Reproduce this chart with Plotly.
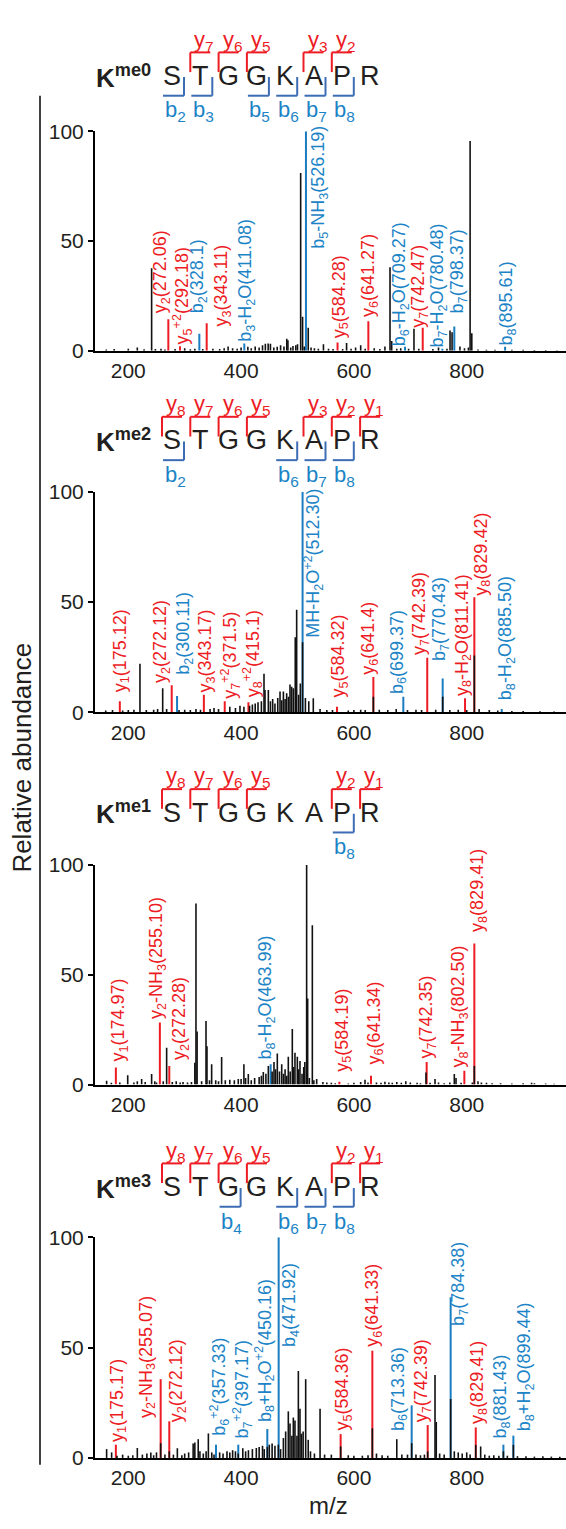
import plotly.graph_objects as go

W, H = 566, 1529
FONT = "Liberation Sans, Arial, Helvetica, sans-serif"
TXT = "#231f20"
RED = "#ed1c24"
BLUE = "#1a7cc1"
BRK_BLUE = "#3c6db4"
LBL_BLUE = "#1c84c6"

def px(x):
    return x / W

def py(y):
    return 1 - y / H

# ---------------- data ----------------
RESIDUES = ["S", "T", "G", "G", "K", "A", "P", "R"]
MODS = ["me0", "me2", "me1", "me3"]
Y_HEADER = [[7, 6, 5, 3, 2], [8, 7, 6, 5, 3, 2, 1], [8, 7, 6, 5, 2, 1], [8, 7, 6, 5, 2, 1]]
B_HEADER = [[2, 3, 5, 6, 7, 8], [2, 6, 7, 8], [8], [4, 6, 7, 8]]
X_TICKS = [200, 400, 600, 800]
Y_TICKS = [0, 50, 100]

# panel 1 (Kme0)
P1_mz = [161, 175, 200, 216, 228, 241.4, 248, 258, 265, 283, 300, 310, 318, 332, 350, 362, 370, 377, 385, 393,
         400, 412, 418, 425, 432, 438, 443, 448, 452, 458, 464, 470, 476, 481, 483, 488, 492, 497, 500, 505.6,
         509, 512, 519, 524, 530, 537, 546, 555, 563, 580, 587, 595, 603, 612, 620, 636, 646, 655, 664, 667,
         676, 683, 697, 706.5, 715, 740, 750, 765, 770.4, 774, 788, 796, 803, 806, 809, 820, 835, 850, 880,
         900, 920, 940, 960]
P1_int = [0.6, 0.8, 1.0, 1.5, 0.7, 37.6, 0.8, 1.0, 0.6, 0.8, 1.2, 0.7, 1.0, 0.8, 1.0, 0.8, 1.2, 2.0, 1.2, 0.9,
          1.5, 1.8, 1.2, 2.0, 1.5, 2.5, 3.2, 3.3, 3.2, 1.5, 1.8, 2.5, 2.0, 5.5, 4.8, 1.5, 2.2, 2.5, 3.0, 81.0,
          15.5, 2.0, 10.5, 1.5, 1.2, 1.0, 3.0, 1.0, 0.8, 0.8, 3.6, 1.0, 1.5, 2.5, 1.0, 1.2, 0.8, 2.0, 38.0, 4.5,
          1.0, 1.2, 1.0, 10.0, 1.0, 0.8, 1.5, 1.0, 9.3, 8.5, 2.0, 1.2, 1.5, 95.5, 8.0, 0.6, 0.5, 0.5, 0.5,
          0.5, 0.4, 0.4, 0.3]
P1_ion_mz = [271, 291.7, 326, 339, 405.7, 515, 571, 625.6, 690.6, 722, 756.8, 778, 868]
P1_ion_int = [14.4, 2.1, 7.8, 12.5, 3.3, 100, 3.8, 13.5, 1.8, 10.5, 1.0, 11.1, 1.8]
P1_ion_type = ["y", "y", "b", "y", "b", "b", "y", "y", "b", "y", "b", "b", "b"]
P1_labels = ["y<sub>2</sub>(272.06)", "y<sub>5</sub><sup>+2</sup>(292.18)", "b<sub>2</sub>(328.1)",
             "y<sub>3</sub>(343.11)", "b<sub>3</sub>-H<sub>2</sub>O(411.08)", "b<sub>5</sub>-NH<sub>3</sub>(526.19)",
             "y<sub>5</sub>(584.28)", "y<sub>6</sub>(641.27)", "b<sub>6</sub>-H<sub>2</sub>O(709.27)",
             "y<sub>7</sub>(742.47)", "b<sub>7</sub>-H<sub>2</sub>O(780.48)", "b<sub>7</sub>(798.37)",
             "b<sub>8</sub>(895.61)"]
P1_lab_mz = [259, 296.4, 324, 366.7, 410, 540, 575.3, 628.5, 683, 716, 750, 785, 874]
P1_lab_y = [16.7, 2.5, 16.7, 10.8, 3.8, 45.8, 5.5, 15.2, 1.5, 10.0, 0.8, 16.7, 2.2]

# panel 2 (Kme2)
P2_mz = [160, 172, 190, 200, 210, 220.7, 232, 245, 252, 261, 268, 290, 300, 310, 320, 328, 345, 352, 360, 380,
         390, 398, 405, 415, 420, 425, 430, 436, 440.6, 442.4, 448.3, 452, 456, 460, 465, 469, 472, 475, 478,
         480.8, 484, 486.7, 489.6, 492.6, 496, 498.5, 502, 505, 509, 514, 520, 528, 540, 552, 562, 590, 600,
         612, 620, 634.5, 645, 660, 675, 695, 710, 720, 745, 757.4, 770, 785, 800, 813.5, 822, 840, 855, 880,
         900, 930, 955]
P2_int = [0.8, 1.0, 0.8, 1.0, 1.2, 22.0, 1.0, 1.2, 1.5, 10.9, 1.5, 1.0, 1.2, 1.0, 1.5, 1.2, 1.5, 2.0, 1.5, 2.5,
          2.0, 3.0, 2.5, 3.0, 3.5, 4.0, 4.5, 5.0, 17.5, 10.1, 10.1, 5.0, 6.0, 4.0, 6.5, 9.4, 5.5, 9.4, 6.0,
          8.6, 7.0, 12.6, 11.6, 10.9, 34.0, 46.5, 8.0, 13.1, 31.7, 6.5, 5.0, 6.4, 1.5, 1.0, 1.0, 0.8, 1.0,
          1.2, 1.0, 7.0, 1.2, 1.0, 1.5, 1.0, 1.2, 1.0, 1.2, 7.0, 1.0, 1.2, 1.0, 25.7, 1.5, 1.0, 0.8, 0.6,
          0.6, 0.5, 0.4]
P2_ion_mz = [185, 277, 286.5, 334, 371, 413, 509, 570, 634.5, 687.6, 730, 757.4, 797, 813.5, 862]
P2_ion_int = [5.0, 12.3, 7.4, 7.9, 5.0, 4.5, 100, 2.5, 16.0, 7.1, 24.7, 15.3, 6.4, 52.1, 1.5]
P2_ion_type = ["y", "y", "b", "y", "y", "y", "b", "y", "y", "b", "y", "b", "y", "y", "b"]
P2_labels = ["y<sub>1</sub>(175.12)", "y<sub>2</sub>(272.12)", "b<sub>2</sub>(300.11)", "y<sub>3</sub>(343.17)",
             "y<sub>7</sub><sup>+2</sup>(371.5)", "y<sub>8</sub><sup>+2</sup>(415.1)",
             "MH-H<sub>2</sub>O<sup>+2</sup>(512.30)", "y<sub>5</sub>(584.32)", "y<sub>6</sub>(641.4)",
             "b<sub>6</sub>(699.37)", "y<sub>7</sub>(742.39)", "b<sub>7</sub>(770.43)",
             "y<sub>8</sub>-H<sub>2</sub>O(811.41)", "y<sub>8</sub>(829.42)", "b<sub>8</sub>-H<sub>2</sub>O(885.50)"]
P2_lab_mz = [188, 259, 300.5, 339, 380, 420.5, 528, 575, 628.5, 678.8, 717, 752.6, 794, 828.3, 870.8]
P2_lab_y = [8.6, 12.8, 16.8, 8.6, 5.8, 6.4, 33.2, 6.4, 16.8, 8.0, 25.7, 22.8, 7.1, 52.5, 4.9]

# panel 3 (Kme1)
P3_mz = [161.6, 170, 185, 199, 210, 216, 223.7, 230, 241.4, 247, 250, 262, 268, 278, 285, 292, 297, 305, 312,
         318, 320, 322, 330, 337.8, 339.5, 344, 347.8, 355, 360, 365.5, 372, 380, 388, 395, 400, 405, 408,
         412.8, 418, 424, 432, 436, 439.4, 444, 448.3, 455, 458.3, 461, 464.2, 468, 472, 475, 478, 481, 483.7,
         487, 490.8, 493, 495.5, 499.7, 502, 504.4, 508, 511, 513, 516.2, 518, 521, 526.3, 529, 534, 545, 552,
         560, 567, 590, 600, 612, 619.7, 625, 640, 648, 655, 662, 668, 676, 684, 692, 700, 712, 718, 727.8,
         735, 743.8, 750, 760, 770, 778, 781, 790, 810, 813.5, 820, 826, 835, 845, 860, 880, 900, 915, 920,
         940, 955]
P3_int = [1.8, 0.8, 1.0, 4.3, 1.0, 1.5, 2.5, 1.2, 4.8, 1.5, 1.0, 1.5, 16.8, 1.2, 1.5, 1.0, 1.2, 1.0, 1.2,
          10.0, 82.5, 24.2, 1.5, 29.0, 17.5, 2.0, 9.3, 2.0, 1.5, 12.6, 2.0, 2.2, 2.0, 2.5, 2.5, 9.3, 3.0,
          4.8, 2.0, 3.0, 3.5, 4.0, 5.8, 5.0, 8.5, 6.0, 10.3, 7.0, 14.2, 6.0, 9.3, 5.0, 7.0, 4.0, 12.7,
          6.0, 25.3, 8.0, 14.5, 12.7, 7.0, 10.8, 5.0, 8.0, 10.3, 100, 39.2, 3.0, 72.5, 2.0, 2.5, 1.2, 1.0,
          0.8, 0.6, 0.5, 0.8, 1.2, 2.2, 1.0, 1.0, 0.8, 1.3, 1.0, 0.8, 1.2, 0.8, 1.5, 1.0, 0.8, 0.6, 5.5,
          0.8, 2.5, 1.0, 0.6, 1.0, 4.8, 3.0, 0.8, 1.0, 8.5, 1.5, 1.0, 0.8, 0.6, 0.6, 0.5, 0.6, 0.8, 0.6,
          0.5, 0.4]
P3_ion_mz = [178, 256, 272.7, 452.4, 574.2, 630.3, 729, 795.8, 813.5]
P3_ion_int = [7.8, 28.3, 8.5, 9.3, 1.3, 4.0, 10.3, 6.3, 64.3]
P3_ion_type = ["y", "y", "y", "b", "y", "y", "y", "y", "y"]
P3_labels = ["y<sub>1</sub>(174.97)", "y<sub>2</sub>-NH<sub>3</sub>(255.10)", "y<sub>2</sub>(272.28)",
             "b<sub>8</sub>-H<sub>2</sub>O(463.99)", "y<sub>5</sub>(584.19)", "y<sub>6</sub>(641.34)",
             "y<sub>7</sub>(742.35)", "y<sub>8</sub>-NH<sub>3</sub>(802.50)", "y<sub>8</sub>(829.41)"]
P3_lab_mz = [185.3, 253.2, 292.8, 445.3, 580, 637.4, 730.8, 788, 820.6]
P3_lab_y = [10.3, 29.5, 10.8, 10.8, 5.5, 8.5, 11.5, 7.3, 69.0]

# panel 4 (Kme3)
P4_mz = [161.6, 170.5, 180, 190, 200, 208, 216, 225, 233, 240, 245, 250, 257.4, 265, 272.7, 280, 287, 295, 300,
         307, 315, 318, 324, 327, 333, 338, 342, 348, 352, 362, 368, 375, 380, 385, 390, 395, 403, 408, 413,
         420, 427, 432, 438, 441, 446.5, 450, 455, 460, 466, 470, 475, 479, 483.7, 486.7, 490, 492.6, 495.5,
         499, 501.5, 504.4, 507, 510, 514.5, 519, 523, 530, 540, 548, 560, 576.5, 590, 600, 615, 625, 632.7,
         640, 650, 660, 676, 685, 695, 702.4, 710, 718, 725, 730.8, 743.8, 746, 752, 760, 771.5, 778, 785,
         792, 800, 806, 816, 824.7, 832, 840, 848, 857, 865, 872, 882.7, 890, 905, 920, 935, 950, 965]
P4_int = [4.0, 2.5, 1.0, 1.5, 1.0, 1.2, 4.5, 1.5, 2.0, 2.5, 1.2, 2.5, 6.7, 1.5, 3.0, 1.5, 4.4, 1.2, 2.0,
          2.5, 6.5, 7.0, 8.5, 3.0, 2.0, 3.0, 11.1, 2.5, 1.5, 2.5, 2.0, 3.0, 2.5, 3.5, 3.0, 2.0, 4.4, 3.0, 3.5,
          4.0, 4.5, 5.0, 5.5, 4.0, 5.0, 6.0, 6.5, 5.5, 6.0, 4.0, 9.0, 12.0, 21.1, 15.6, 10.0, 18.3, 17.0,
          10.0, 39.4, 22.3, 11.0, 12.0, 35.7, 8.2, 3.0, 2.0, 22.3, 1.5, 1.5, 5.2, 1.2, 1.0, 1.0, 1.2, 13.4,
          2.0, 1.2, 1.0, 8.5, 1.5, 1.5, 6.7, 1.5, 1.2, 1.5, 3.0, 37.6, 16.3, 2.0, 1.5, 26.7, 3.0, 2.5,
          2.0, 2.5, 1.5, 5.9, 5.2, 1.5, 1.0, 1.2, 1.0, 3.0, 1.0, 5.9, 0.8, 0.8, 0.6, 0.8, 0.6, 0.5]
P4_ion_mz = [178, 257.4, 272.7, 355.5, 395, 446.5, 466.6, 576.5, 632.7, 702.4, 730.8, 771.5, 816, 865, 882.7]
P4_ion_int = [6.0, 35.7, 16.6, 6.0, 6.0, 13.1, 100, 10.8, 48.6, 23.8, 14.9, 72.8, 13.8, 6.0, 10.1]
P4_ion_type = ["y", "y", "y", "b", "b", "b", "b", "y", "y", "b", "y", "b", "y", "b", "b"]
P4_labels = ["y<sub>1</sub>(175.17)", "y<sub>2</sub>-NH<sub>3</sub>(255.07)", "y<sub>2</sub>(272.12)",
             "b<sub>6</sub><sup>+2</sup>(357.33)", "b<sub>7</sub><sup>+2</sup>(397.17)",
             "b<sub>8</sub>+H<sub>2</sub>O<sup>+2</sup>(450.16)", "b<sub>4</sub>(471.92)", "y<sub>5</sub>(584.36)",
             "y<sub>6</sub>(641.33)", "b<sub>6</sub>(713.36)", "y<sub>7</sub>(742.39)", "b<sub>7</sub>(784.38)",
             "y<sub>8</sub>(829.41)", "b<sub>8</sub>(881.43)", "b<sub>8</sub>+H<sub>2</sub>O(899.44)"]
P4_lab_mz = [182.3, 233.7, 288.7, 361.4, 402.8, 442.4, 486.7, 581.3, 634.4, 680.5, 723, 788.1, 820.6, 862, 903.3]
P4_lab_y = [6.7, 17.8, 15.6, 9.7, 8.2, 15.6, 49.8, 11.9, 49.8, 11.9, 15.6, 59.4, 14.9, 8.2, 11.9]

PANELS = [
    (P1_mz, P1_int, P1_ion_mz, P1_ion_int, P1_ion_type, P1_labels, P1_lab_mz, P1_lab_y),
    (P2_mz, P2_int, P2_ion_mz, P2_ion_int, P2_ion_type, P2_labels, P2_lab_mz, P2_lab_y),
    (P3_mz, P3_int, P3_ion_mz, P3_ion_int, P3_ion_type, P3_labels, P3_lab_mz, P3_lab_y),
    (P4_mz, P4_int, P4_ion_mz, P4_ion_int, P4_ion_type, P4_labels, P4_lab_mz, P4_lab_y),
]

# ---------------- layout geometry (pixels) ----------------
PANEL_TOP = [121, 487, 866, 1244]      # y pixel of 100
PANEL_BOT = [344, 711, 1089, 1468]     # y pixel of 0
HEADER_Y = [65, 435, 813, 1193]
X_LEFT, X_RIGHT = 95, 566
X_RANGE = [141, 976]
RES_X0, RES_DX = 172, 28.3


def sticks(xs, ys):
    sx, sy = [], []
    for x, y in zip(xs, ys):
        sx += [x, x, None]
        sy += [0, y, None]
    return sx, sy


fig = go.Figure()
annotations = []
shapes = []
layout_axes = {}

for i, (bmz, bint, imz, iint, itype, labs, lmz, ly) in enumerate(PANELS):
    n = i + 1
    xa = "x" if n == 1 else f"x{n}"
    ya = "y" if n == 1 else f"y{n}"
    for t, col in (("y", RED), ("b", BLUE)):
        xs = [m for m, tt in zip(imz, itype) if tt == t]
        ys = [h for h, tt in zip(iint, itype) if tt == t]
        sx, sy = sticks(xs, ys)
        fig.add_trace(go.Scatter(x=sx, y=sy, mode="lines", line=dict(color=col, width=2),
                                 xaxis=xa, yaxis=ya, hoverinfo="skip", showlegend=False))
    sx, sy = sticks(bmz, bint)
    fig.add_trace(go.Scatter(x=sx, y=sy, mode="lines", line=dict(color="#111111", width=1.6),
                             xaxis=xa, yaxis=ya, hoverinfo="skip", showlegend=False))
    for text, t, x, y in zip(labs, itype, lmz, ly):
        annotations.append(dict(text=text, x=x, y=y, xref=xa, yref=ya, showarrow=False,
                                textangle=-90, xanchor="center", yanchor="bottom",
                                font=dict(family=FONT, size=18, color=RED if t == "y" else LBL_BLUE),
                                borderpad=0))
    xkey = "xaxis" if n == 1 else f"xaxis{n}"
    ykey = "yaxis" if n == 1 else f"yaxis{n}"
    layout_axes[xkey] = dict(domain=[px(X_LEFT), px(X_RIGHT)], range=X_RANGE, anchor=ya,
                             showline=True, linecolor="#000000", linewidth=2, ticks="",
                             tickvals=X_TICKS, tickfont=dict(family=FONT, size=21, color=TXT),
                             showgrid=False, zeroline=False, fixedrange=True)
    layout_axes[ykey] = dict(domain=[py(PANEL_BOT[i]), py(PANEL_TOP[i])], range=[0, 100], anchor=xa,
                             showline=True, linecolor="#000000", linewidth=2, ticks="outside",
                             ticklen=5, tickwidth=2, tickcolor="#000000",
                             tickvals=Y_TICKS, tickfont=dict(family=FONT, size=21, color=TXT),
                             showgrid=False, zeroline=False, fixedrange=True)

    yc = HEADER_Y[i]
    annotations.append(dict(text=f"<b>K</b><sup><b>{MODS[i]}</b></sup>", x=px(153), y=py(yc), xref="paper",
                            yref="paper", showarrow=False, xanchor="right", yanchor="middle",
                            font=dict(family=FONT, size=26, color=TXT)))
    for r, res in enumerate(RESIDUES):
        annotations.append(dict(text=res, x=px(RES_X0 + RES_DX * r), y=py(yc), xref="paper", yref="paper",
                                showarrow=False, xanchor="center", yanchor="middle",
                                font=dict(family=FONT, size=27, color=TXT)))
    for num in Y_HEADER[i]:
        r = 8 - num
        xc = RES_X0 + RES_DX * r
        shapes.append(dict(type="line", xref="paper", yref="paper", x0=px(xc - 10), x1=px(xc - 10),
                           y0=py(yc - 4), y1=py(yc - 24), line=dict(color=RED, width=2)))
        shapes.append(dict(type="line", xref="paper", yref="paper", x0=px(xc - 10), x1=px(xc + 10),
                           y0=py(yc - 24), y1=py(yc - 24), line=dict(color=RED, width=2)))
        annotations.append(dict(text=f"y<sub>{num}</sub>", x=px(xc + 4), y=py(yc - 36), xref="paper",
                                yref="paper", showarrow=False, xanchor="center", yanchor="middle",
                                font=dict(family=FONT, size=22, color=RED)))
    for num in B_HEADER[i]:
        r = num - 2
        xc = RES_X0 + RES_DX * r
        shapes.append(dict(type="line", xref="paper", yref="paper", x0=px(xc + 12), x1=px(xc + 12),
                           y0=py(yc + 1), y1=py(yc + 20), line=dict(color=BRK_BLUE, width=2)))
        shapes.append(dict(type="line", xref="paper", yref="paper", x0=px(xc - 9), x1=px(xc + 12),
                           y0=py(yc + 20), y1=py(yc + 20), line=dict(color=BRK_BLUE, width=2)))
        annotations.append(dict(text=f"b<sub>{num}</sub>", x=px(xc + 3), y=py(yc + 36), xref="paper",
                                yref="paper", showarrow=False, xanchor="center", yanchor="middle",
                                font=dict(family=FONT, size=22, color=LBL_BLUE)))

shapes.append(dict(type="line", xref="paper", yref="paper", x0=px(40), x1=px(40), y0=py(85), y1=py(1475),
                   line=dict(color="#000000", width=1.5)))
annotations.append(dict(text="Relative abundance", x=px(22), y=py(757), xref="paper", yref="paper",
                        showarrow=False, textangle=-90, xanchor="center", yanchor="middle",
                        font=dict(family=FONT, size=26, color=TXT)))
annotations.append(dict(text="m/z", x=px(328), y=py(1516), xref="paper", yref="paper",
                        showarrow=False, xanchor="center", yanchor="middle",
                        font=dict(family=FONT, size=24, color=TXT)))

fig.update_layout(width=W, height=H, margin=dict(l=0, r=0, t=0, b=0),
                  paper_bgcolor="white", plot_bgcolor="white", showlegend=False,
                  annotations=annotations, shapes=shapes, **layout_axes)

fig.write_html("out.html", config={"displayModeBar": False},
               post_script="document.body.style.margin='0';document.body.style.overflow='hidden';")
